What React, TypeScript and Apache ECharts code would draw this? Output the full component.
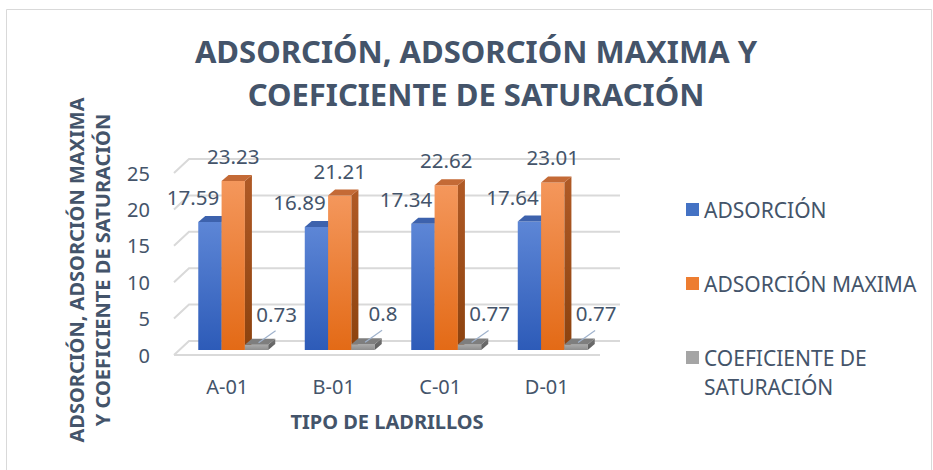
import React, { useEffect, useRef } from "react";
import * as echarts from "echarts";

const categories = ["A-01", "B-01", "C-01", "D-01"];
const adsorcion = [17.59, 16.89, 17.34, 17.64];
const adsorcionMaxima = [23.23, 21.21, 22.62, 23.01];
const coeficiente = [0.73, 0.8, 0.77, 0.77];
const yTicks = [0, 5, 10, 15, 20, 25];
const seriesNames = ["ADSORCIÓN", "ADSORCIÓN MAXIMA", "COEFICIENTE DE SATURACIÓN"];

const TEXT = "#44546a";
const FONT = "'Noto Sans', 'Open Sans', sans-serif";

type Faces = { front: [string, string]; side: [string, string]; top: string; legend: string };
const faces: Faces[] = [
  { front: ["#5d86d6", "#2d5bb8"], side: ["#355da8", "#24488f"], top: "#3d62ad", legend: "#4472c4" },
  { front: ["#f4975c", "#e36a16"], side: ["#b05a26", "#8c420e"], top: "#c46a36", legend: "#ed7d31" },
  { front: ["#ababab", "#8e8e8e"], side: ["#727272", "#5e5e5e"], top: "#7e7e7e", legend: "#a5a5a5" },
];

// 3D geometry (pixels)
const BAR_SHIFT_X = 6;
const BAR_SHIFT_Y = -5;
const BAR_DX = 7;
const BAR_DY = 6;
const FLOOR_DX = 15;
const FLOOR_DY = 14;
const BAR_RATIO = 0.219;

function makeBarRender(k: number) {
  const f = faces[k];
  return (params: any, api: any) => {
    const i = api.value(0);
    const v = api.value(1);
    const top = api.coord([i, v]);
    const base = api.coord([i, 0]);
    const band = api.size([1, 0])[0];
    const w = band * BAR_RATIO;
    const cx = top[0] + BAR_SHIFT_X + (k - 1) * w;
    const x0 = cx - w / 2;
    const x1 = cx + w / 2;
    const yT = top[1] + BAR_SHIFT_Y;
    const yB = base[1] + BAR_SHIFT_Y;
    const children: any[] = [
      {
        type: "rect",
        shape: { x: x0, y: yT, width: w, height: yB - yT },
        style: {
          fill: new echarts.graphic.LinearGradient(0, 0, 0, 1, [
            { offset: 0, color: f.front[0] },
            { offset: 1, color: f.front[1] },
          ]),
        },
      },
      {
        type: "polygon",
        shape: { points: [[x1, yT], [x1 + BAR_DX, yT - BAR_DY], [x1 + BAR_DX, yB - BAR_DY], [x1, yB]] },
        style: {
          fill: new echarts.graphic.LinearGradient(0, 0, 0, 1, [
            { offset: 0, color: f.side[0] },
            { offset: 1, color: f.side[1] },
          ]),
        },
      },
      {
        type: "polygon",
        shape: { points: [[x0, yT], [x0 + BAR_DX, yT - BAR_DY], [x1 + BAR_DX, yT - BAR_DY], [x1, yT]] },
        style: { fill: f.top },
      },
    ];
    let lx = cx;
    let ly = yT - 25;
    if (k === 0) lx = cx - 17;
    if (k === 2) {
      lx = cx + 20;
      ly = yT - 31;
      children.push({
        type: "line",
        shape: { x1: cx + 19, y1: yT - 14, x2: cx + 2, y2: yT - 2 },
        style: { stroke: "#9fb2cc", lineWidth: 1.2 },
      });
    }
    children.push({
      type: "text",
      x: lx,
      y: ly,
      style: {
        text: String(v),
        fill: TEXT,
        fontSize: 20.5,
        fontFamily: FONT,
        align: "center",
        verticalAlign: "middle",
      },
    });
    return { type: "group", children };
  };
}

function gridRender(params: any, api: any) {
  const v = api.value(1);
  const p = api.coord([0, v]);
  const cs = params.coordSys;
  const left = cs.x;
  const right = cs.x + cs.width;
  const y = p[1];
  const children: any[] = [
    {
      type: "polyline",
      shape: { points: [[left, y], [left + FLOOR_DX, y - FLOOR_DY], [right + 20, y - FLOOR_DY]] },
      style: { stroke: "#d9d9d9", lineWidth: 2, fill: "none" },
    },
  ];
  if (v === 0) {
    children.push({
      type: "line",
      shape: { x1: left, y1: y, x2: right, y2: y },
      style: { stroke: "#d9d9d9", lineWidth: 2 },
    });
  }
  return { type: "group", children };
}

const valueSets = [adsorcion, adsorcionMaxima, coeficiente];

export default function App() {
  const ref = useRef<HTMLDivElement>(null);
  useEffect(() => {
    if (!ref.current) return;
    const chart = echarts.init(ref.current, undefined, { renderer: "svg" });
    const legendCommon = {
      orient: "vertical",
      left: 681,
      icon: "rect",
      itemWidth: 13,
      itemHeight: 13,
      selectedMode: false,
      textStyle: { color: TEXT, fontSize: 21, fontFamily: FONT, lineHeight: 29 },
    };
    chart.setOption({
      animation: false,
      backgroundColor: "#ffffff",
      title: {
        text: "ADSORCIÓN, ADSORCIÓN MAXIMA Y\nCOEFICIENTE DE SATURACIÓN",
        left: 471,
        top: 24,
        textAlign: "center",
        textVerticalAlign: "top",
        textStyle: { color: TEXT, fontSize: 31, fontWeight: "bold", fontFamily: FONT, lineHeight: 43 },
      },
      graphic: [
        {
          type: "rect",
          left: 4,
          top: 7,
          shape: { width: 925, height: 480 },
          style: { fill: "none", stroke: "#d9d9d9", lineWidth: 1 },
          z: -1,
        },
      ],
      legend: [
        { ...legendCommon, top: 190, data: [seriesNames[0]] },
        { ...legendCommon, top: 264, data: [seriesNames[1]] },
        {
          ...legendCommon,
          top: 309,
          data: [seriesNames[2]],
          formatter: () => "\nCOEFICIENTE DE\nSATURACIÓN",
        },
      ],
      grid: { left: 174, right: 333, top: 173, bottom: 115 },
      xAxis: {
        type: "category",
        data: categories,
        axisLine: { show: false },
        axisTick: { show: false },
        axisLabel: { color: TEXT, fontSize: 20, fontFamily: FONT, margin: 21 },
        name: "TIPO DE LADRILLOS",
        nameLocation: "middle",
        nameGap: 56,
        nameTextStyle: { color: TEXT, fontSize: 20, fontWeight: "bold", fontFamily: FONT },
      },
      yAxis: {
        type: "value",
        min: 0,
        max: 25,
        interval: 5,
        axisLine: { show: false },
        axisTick: { show: false },
        splitLine: { show: false },
        axisLabel: { color: TEXT, fontSize: 20, fontFamily: FONT, margin: 24, padding: [5, 0, 0, 0] },
        name: "ADSORCIÓN, ADSORCIÓN MAXIMA\nY COEFICIENTE DE SATURACIÓN",
        nameLocation: "middle",
        nameRotate: 90,
        nameGap: 59,
        nameTextStyle: {
          color: TEXT,
          fontSize: 20,
          fontWeight: "bold",
          fontFamily: FONT,
          lineHeight: 26,
          padding: [0, 12, 0, 0],
        },
      },
      series: [
        {
          type: "custom",
          name: "grid",
          z: 1,
          silent: true,
          renderItem: gridRender,
          encode: { x: 0, y: 1 },
          data: yTicks.map((t) => [0, t]),
        },
        ...valueSets.map((vals, k) => ({
          type: "custom",
          name: seriesNames[k],
          z: 2 + k,
          itemStyle: { color: faces[k].legend },
          renderItem: makeBarRender(k),
          encode: { x: 0, y: 1 },
          data: vals.map((v, i) => [i, v]),
        })),
      ],
    });
    return () => chart.dispose();
  }, []);
  return (
    <div
      ref={ref}
      style={{ position: "absolute", left: 0, top: 0, width: 933, height: 470 }}
    />
  );
}
